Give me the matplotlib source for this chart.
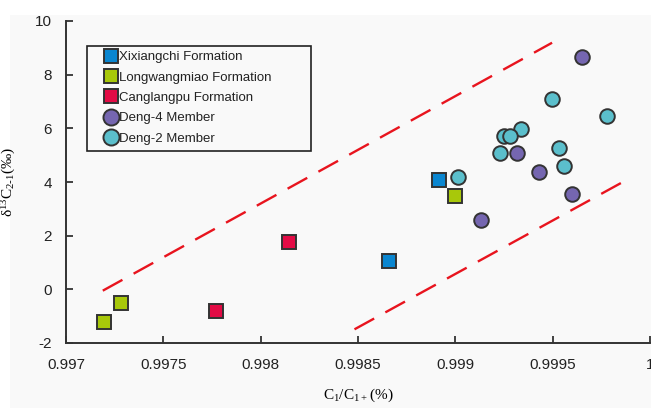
import numpy as np
import matplotlib
matplotlib.use('Agg')
import matplotlib.pyplot as plt
from matplotlib.patches import Rectangle

# data
xix_x = [0.998917, 0.99866]
xix_y = [4.06, 1.04]
lwm_x = [0.999, 0.997283, 0.997195]
lwm_y = [3.46, -0.52, -1.23]
clp_x = [0.998146, 0.997771]
clp_y = [1.76, -0.82]
d4_x = [0.999652, 0.999318, 0.999432, 0.9996, 0.999133]
d4_y = [8.64, 5.08, 4.36, 3.56, 2.58]
d2_x = [0.999497, 0.99978, 0.999335, 0.999251, 0.99928, 0.999232, 0.999535, 0.999556, 0.999013]
d2_y = [7.08, 6.45, 5.97, 5.70, 5.70, 5.08, 5.28, 4.59, 4.20]
upper_x = [0.997189, 0.999497]
upper_y = [-0.05, 9.19]
lower_x = [0.998482, 0.999873]
lower_y = [-1.49, 4.05]
xticks = [0.997, 0.9975, 0.998, 0.9985, 0.999, 0.9995, 1.0]
xticklabels = ['0.997', '0.9975', '0.998', '0.9985', '0.999', '0.9995', '1']
yticks = [-2, 0, 2, 4, 6, 8, 10]

plt.rcParams['font.family'] = ['Liberation Sans', 'DejaVu Sans']
plt.rcParams['axes.unicode_minus'] = False

fig = plt.figure(figsize=(6.51, 4.08), dpi=100, facecolor='white')
fig.patches.append(Rectangle((10/651, 0), 1, 1 - 15/408, transform=fig.transFigure,
                             facecolor='#f9f9f9', edgecolor='none', zorder=-5))
ax = fig.add_axes([66/651, 1 - 343/408, 584/651, (343 - 21)/408])
ax.set_facecolor('none')

red = '#e8141e'
ax.plot(upper_x, upper_y, color=red, lw=1.7, linestyle=(0, (9.5, 5.4)), zorder=2)
ax.plot(lower_x, lower_y, color=red, lw=1.7, linestyle=(0, (9.5, 5.4)), zorder=2)

ec = '#333333'
ax.plot(xix_x, xix_y, 's', ms=9.5, mfc='#0a86d0', mec=ec, mew=1.4, ls='none', label='Xixiangchi Formation', zorder=3)
ax.plot(lwm_x, lwm_y, 's', ms=9.5, mfc='#a8c80a', mec=ec, mew=1.4, ls='none', label='Longwangmiao Formation', zorder=3)
ax.plot(clp_x, clp_y, 's', ms=9.5, mfc='#e30b45', mec=ec, mew=1.4, ls='none', label='Canglangpu Formation', zorder=3)
ax.plot(d4_x, d4_y, 'o', ms=10.5, mfc='#7566b0', mec=ec, mew=1.4, ls='none', label='Deng-4 Member', zorder=3)
ax.plot(d2_x, d2_y, 'o', ms=10.5, mfc='#5bbfcc', mec=ec, mew=1.4, ls='none', label='Deng-2 Member', zorder=3)

ax.set_xlim(0.997, 1.0)
ax.set_ylim(-2, 10)
ax.set_xticks(xticks)
ax.set_xticklabels(xticklabels)
ax.set_yticks(yticks)
ax.tick_params(direction='in', length=5, width=1.3, color=ec, labelsize=11, labelcolor='#222222')
ax.tick_params(axis='x', pad=11)
ax.tick_params(axis='y', pad=10)
for s in ['top', 'right']:
    ax.spines[s].set_visible(False)
for s in ['left', 'bottom']:
    ax.spines[s].set_color(ec)
    ax.spines[s].set_linewidth(1.4)

ax.set_xlabel(r'$\mathregular{C_1/C_{1+}}$(%)', family=['Liberation Serif', 'DejaVu Serif'],
              fontsize=11, labelpad=10)
ax.set_ylabel(r'$\mathregular{\delta^{13}C_{2\text{-}1}}$(‰)', family=['Liberation Serif', 'DejaVu Serif'],
              fontsize=11, labelpad=12)

# legend: entries from matplotlib, frame drawn as a box around them
leg = ax.legend(loc='upper left', bbox_to_anchor=(38/584, 1 - 30/322), fontsize=9.5,
                frameon=False, labelspacing=0.62, handletextpad=0.15, handlelength=1.0,
                borderaxespad=0, borderpad=0, markerscale=1.1)
for t in leg.get_texts():
    t.set_color('#222222')
ax.add_patch(Rectangle((21/584, 1 - 130/322), 224/584, 105/322, transform=ax.transAxes,
                       facecolor='none', edgecolor='#222222', lw=1.2, zorder=4))

fig.savefig('out.png', dpi=100)
